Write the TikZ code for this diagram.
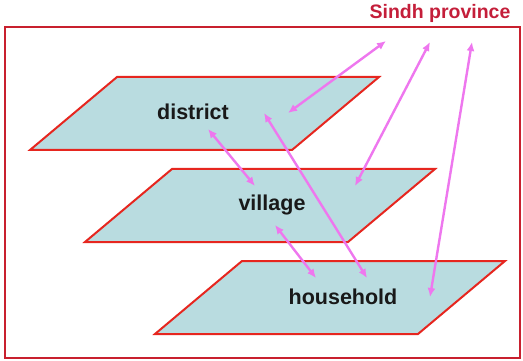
\documentclass[tikz,border=0pt]{standalone}
\usepackage{fontspec}
\setmainfont{Liberation Sans}
\usetikzlibrary{arrows.meta}
\definecolor{planefill}{HTML}{B9DCE0}
\definecolor{planeedge}{HTML}{E6261F}
\definecolor{outeredge}{HTML}{C8202E}
\definecolor{titlecol}{HTML}{C41E3A}
\definecolor{arrowcol}{HTML}{EE77EE}
\tikzset{
  plane/.style={fill=planefill, draw=planeedge, line width=2pt, line join=miter},
  outerbox/.style={draw=outeredge, line width=2pt},
  lbl/.style={font=\bfseries\fontsize{21.5}{24}\selectfont, text=black!90, inner sep=0pt},
  title/.style={font=\bfseries\fontsize{19.5}{22}\selectfont, text=titlecol, inner sep=0pt},
  link/.style={draw=arrowcol, line width=2.4pt, {Latex[length=9pt,width=8pt]}-{Latex[length=9pt,width=8pt]}, shorten <=0pt, shorten >=0pt}
}
\begin{document}
\begin{tikzpicture}[x=1pt,y=-1pt]
\useasboundingbox (0,0) rectangle (523,361);
\draw[outerbox] (5,27) rectangle (520,358);
\node[title] (sindh) at (440,13) {Sindh province};
% planes
\draw[plane] (117,77) -- (379,77) -- (292,150) -- (30,150) -- cycle;
\draw[plane] (172,169) -- (435,169) -- (348,242) -- (85,242) -- cycle;
\draw[plane] (242,261) -- (505,261) -- (418,334) -- (155,334) -- cycle;
% labels
\node[lbl] (district) at (193,112) {district};
\node[lbl] (village) at (272,205) {village};
\node[lbl] (household) at (343,297) {household};
% endpoints
\coordinate (p1) at (386,41);
\coordinate (p2) at (430,42);
\coordinate (p3) at (472,42);
\coordinate (d1) at (288,113);
\coordinate (d2) at (208,129);
\coordinate (d3) at (264,113);
\coordinate (v1) at (355,186);
\coordinate (v2) at (255,186);
\coordinate (v3) at (275,225);
\coordinate (h1) at (430,297);
\coordinate (h2) at (367,278);
\coordinate (h3) at (316,278);
% arrows
\draw[link] (p1) -- (d1);
\draw[link] (p2) -- (v1);
\draw[link] (p3) -- (h1);
\draw[link] (d2) -- (v2);
\draw[link] (d3) -- (h2);
\draw[link] (v3) -- (h3);
\end{tikzpicture}
\end{document}
